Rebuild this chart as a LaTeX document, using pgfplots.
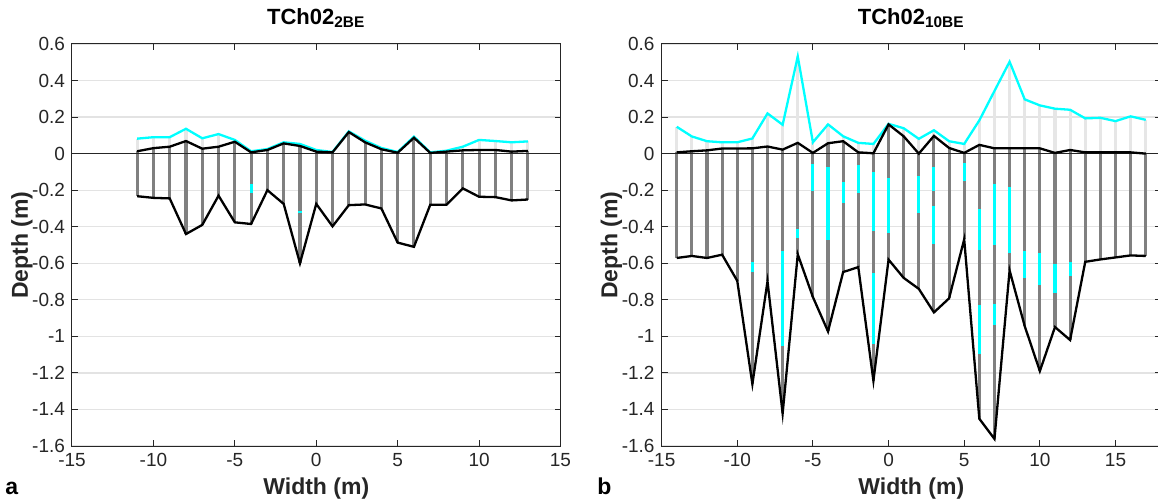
\documentclass[border=0pt]{standalone}
\usepackage{fontspec}
\setmainfont{Liberation Sans}
\usepackage{pgfplots}
\pgfplotsset{compat=1.18}
\usepackage{pgfplotstable}
\usetikzlibrary{calc}

\definecolor{axgray}{HTML}{262626}
\definecolor{bardark}{HTML}{808080}
\definecolor{barlight}{HTML}{E6E6E6}
\definecolor{gridc}{HTML}{E3E3E3}
\definecolor{cyanl}{HTML}{00FFFF}

% x, cyan (upper) surface, black (upper) surface, black lower depth
\pgfplotstableread{
x cy top bot
-11 0.082 0.013 -0.233
-10 0.090 0.030 -0.242
-9 0.090 0.038 -0.245
-8 0.136 0.069 -0.440
-7 0.084 0.027 -0.390
-6 0.107 0.038 -0.230
-5 0.075 0.065 -0.376
-4 0.013 0.007 -0.385
-3 0.025 0.020 -0.200
-2 0.062 0.056 -0.275
-1 0.053 0.042 -0.600
0 0.020 0.011 -0.275
1 0.009 0.007 -0.398
2 0.122 0.118 -0.282
3 0.071 0.062 -0.278
4 0.031 0.024 -0.300
5 0.009 0.005 -0.487
6 0.093 0.087 -0.510
7 0.007 0.004 -0.280
8 0.016 0.011 -0.280
9 0.038 0.018 -0.190
10 0.075 0.020 -0.236
11 0.069 0.020 -0.238
12 0.062 0.011 -0.256
13 0.067 0.015 -0.251
}\leftdata

\pgfplotstableread{
x lo hi
-4 -0.216 -0.167
-1 -0.322 -0.313
}\leftseg

\pgfplotstableread{
x cy top bot
-14 0.147 0.007 -0.571
-13 0.094 0.013 -0.560
-12 0.068 0.018 -0.571
-11 0.062 0.028 -0.553
-10 0.062 0.028 -0.696
-9 0.083 0.029 -1.261
-8 0.220 0.039 -0.699
-7 0.158 0.022 -1.422
-6 0.532 0.059 -0.551
-5 0.062 0.004 -0.785
-4 0.160 0.057 -0.973
-3 0.095 0.068 -0.648
-2 0.059 0.007 -0.621
-1 0.053 0.002 -1.243
0 0.163 0.160 -0.580
1 0.139 0.095 -0.680
2 0.081 0.000 -0.740
3 0.128 0.097 -0.869
4 0.068 0.031 -0.792
5 0.053 0.004 -0.469
6 0.182 0.048 -1.451
7 0.343 0.029 -1.561
8 0.503 0.029 -0.639
9 0.297 0.029 -0.944
10 0.264 0.029 -1.190
11 0.246 0.004 -0.949
12 0.240 0.020 -1.020
13 0.193 0.007 -0.592
14 0.196 0.007 -0.579
15 0.178 0.007 -0.568
16 0.204 0.007 -0.557
17 0.185 0.000 -0.560
}\rightdata

\pgfplotstableread{
x lo hi
-9 -0.648 -0.592
-7 -1.053 -0.533
-6 -0.460 -0.415
-5 -0.204 -0.055
-4 -0.473 -0.073
-3 -0.272 -0.154
-2 -0.213 -0.064
-1 -0.424 -0.103
-1 -1.044 -0.652
0 -0.433 -0.134
2 -0.327 -0.125
3 -0.204 -0.073
3 -0.497 -0.284
5 -0.152 -0.051
6 -0.530 -0.305
6 -1.099 -0.831
7 -0.502 -0.165
7 -0.940 -0.822
8 -0.542 -0.183
9 -0.683 -0.533
10 -0.721 -0.542
11 -0.761 -0.603
12 -0.670 -0.592
}\rightseg

\pgfplotsset{
  panel/.style={
    scale only axis, height=201pt,
    ymin=-1.6, ymax=0.6, xmin=-15,
    ytick={-1.6,-1.4,-1.2,-1,-0.8,-0.6,-0.4,-0.2,0,0.2,0.4,0.6},
    yticklabels={-1.6,-1.4,-1.2,-1,-0.8,-0.6,-0.4,-0.2,0,0.2,0.4,0.6},
    xtick={-15,-10,-5,0,5,10,15},
    xticklabels={-15,-10,-5,0,5,10,15},
    ymajorgrids, grid style={gridc, line width=0.6pt},
    axis line style={axgray, line width=0.5pt},
    tick style={axgray, line width=0.5pt},
    tick align=inside, major tick length=3pt,
    ticklabel style={font=\fontsize{9.5}{11}\selectfont, text=axgray},
    xlabel={Width (m)}, ylabel={Depth (m)},
    xlabel style={at={(axis description cs:0.5,0)}, anchor=base, yshift=-24pt,
      font=\bfseries\fontsize{11.5}{13}\selectfont, text=axgray, inner sep=0pt},
    ylabel style={at={($(axis description cs:0,0.5)+(-19.5pt,0)$)}, anchor=south,
      font=\bfseries\fontsize{11.5}{13}\selectfont, text=axgray, inner sep=0pt},
    title style={at={(axis description cs:0.5,1)}, anchor=base, yshift=3.75pt,
      font=\bfseries\fontsize{11}{13}\selectfont, inner sep=0pt},
  },
  lightbar/.style={draw=none, mark=none, forget plot,
    error bars/.cd, y dir=both, y explicit, error mark=none,
    error bar style={draw=barlight, line width=1.55pt, solid}},
  darkbar/.style={draw=none, mark=none, forget plot,
    error bars/.cd, y dir=both, y explicit, error mark=none,
    error bar style={draw=bardark, line width=1.55pt, solid}},
  cyanbar/.style={draw=none, mark=none, forget plot,
    error bars/.cd, y dir=both, y explicit, error mark=none,
    error bar style={draw=cyanl, line width=1.55pt, solid}},
}

\begin{document}
\begin{tikzpicture}
\begin{axis}[panel, at={(0,0)}, anchor=south west, width=244.25pt, xmax=15,
  title={TCh02\textsubscript{2BE}}]
  \addplot[lightbar] table[x=x, y expr={(\thisrow{cy}+\thisrow{top})/2},
    y error expr={(\thisrow{cy}-\thisrow{top})/2}] {\leftdata};
  \addplot[darkbar] table[x=x, y expr={(\thisrow{top}+\thisrow{bot})/2},
    y error expr={(\thisrow{top}-\thisrow{bot})/2}] {\leftdata};
  \addplot[cyanbar] table[x=x, y expr={(\thisrow{hi}+\thisrow{lo})/2},
    y error expr={(\thisrow{hi}-\thisrow{lo})/2}] {\leftseg};
  \addplot[black!85, line width=0.5pt, forget plot] coordinates {(-15,0) (15,0)};
  \addplot[cyanl, line width=1.15pt, mark=none] table[x=x, y=cy] {\leftdata};
  \addplot[black, line width=1.15pt, mark=none] table[x=x, y=top] {\leftdata};
  \addplot[black, line width=1.15pt, mark=none] table[x=x, y=bot] {\leftdata};
\end{axis}
\begin{axis}[panel, at={(294.8pt,0)}, anchor=south west, width=249.65pt, xmax=18,
  title={TCh02\textsubscript{10BE}}]
  \addplot[lightbar] table[x=x, y expr={(\thisrow{cy}+\thisrow{top})/2},
    y error expr={(\thisrow{cy}-\thisrow{top})/2}] {\rightdata};
  \addplot[darkbar] table[x=x, y expr={(\thisrow{top}+\thisrow{bot})/2},
    y error expr={(\thisrow{top}-\thisrow{bot})/2}] {\rightdata};
  \addplot[cyanbar] table[x=x, y expr={(\thisrow{hi}+\thisrow{lo})/2},
    y error expr={(\thisrow{hi}-\thisrow{lo})/2}] {\rightseg};
  \addplot[black!85, line width=0.5pt, forget plot] coordinates {(-15,0) (18,0)};
  \addplot[cyanl, line width=1.15pt, mark=none] table[x=x, y=cy] {\rightdata};
  \addplot[black, line width=1.15pt, mark=none] table[x=x, y=top] {\rightdata};
  \addplot[black, line width=1.15pt, mark=none] table[x=x, y=bot] {\rightdata};
\end{axis}
\node[anchor=base west, inner sep=0pt, font=\bfseries\fontsize{11.5}{13}\selectfont] at (-33.5pt,-24pt) {a};
\node[anchor=base west, inner sep=0pt, font=\bfseries\fontsize{11.5}{13}\selectfont] at (262.5pt,-24pt) {b};
\pgfresetboundingbox
\path[use as bounding box] (-36pt,-26.5pt) rectangle (543pt,223pt);
\end{tikzpicture}
\end{document}
